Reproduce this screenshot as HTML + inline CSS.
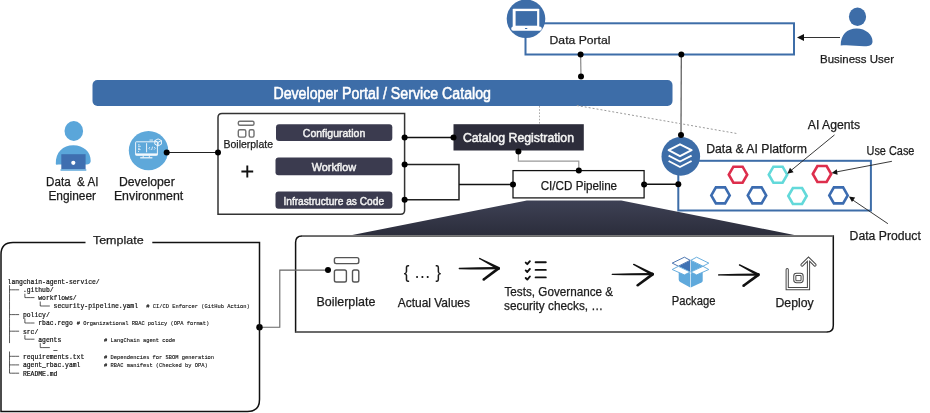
<!DOCTYPE html>
<html><head><meta charset="utf-8">
<style>
html,body{margin:0;padding:0;background:#fff;width:930px;height:413px;overflow:hidden}
svg{position:absolute;left:0;top:0;display:block;will-change:transform}
text{font-family:"Liberation Sans",sans-serif;fill:#1b1b1b;stroke:#1b1b1b;stroke-width:0.25px}
text[font-weight]{stroke:none}
.m{font-family:"Liberation Mono",monospace;stroke-width:0.2px;fill:#111;stroke:#111}
.c{stroke-width:0.12px}
</style></head><body>
<svg width="930" height="413" viewBox="0 0 930 413">
<defs>
<linearGradient id="trap" x1="0" y1="0" x2="0" y2="1">
<stop offset="0" stop-color="#3e4155"/><stop offset="1" stop-color="#2b2d3b"/>
</linearGradient>
</defs>

<!-- ===== Data Portal ===== -->
<rect x="525.5" y="23.3" width="268.5" height="31.2" fill="#fff" stroke="#3d6da8" stroke-width="2"/>
<circle cx="526" cy="18.8" r="19.3" fill="#3d6da8"/>
<text x="549.6" y="43.9" font-size="11.8" textLength="60.8" lengthAdjust="spacingAndGlyphs">Data Portal</text>

<!-- Business user -->
<line x1="840" y1="37.5" x2="803" y2="37.5" stroke="#333" stroke-width="1.1"/>
<path d="M797 37.5 L804 34 L804 41 Z" fill="#111"/>
<ellipse cx="857.5" cy="16.8" rx="8.6" ry="9.2" fill="#3d6da8"/>
<path d="M840.7 45.5 C840.5 35 847 28.5 856.5 28.5 C866 28.5 872.8 35 872.5 41.5 C872.5 45.5 869 46.3 864 46.2 C856 46 848 44.5 840.7 45.5 Z" fill="#3d6da8"/>
<text x="820" y="62.7" font-size="11.7" textLength="74" lengthAdjust="spacingAndGlyphs">Business User</text>

<!-- connectors portal -->
<line x1="580.6" y1="54.6" x2="581" y2="76.4" stroke="#888" stroke-width="1.2"/>
<circle cx="580.6" cy="54.6" r="3" fill="#000"/>
<circle cx="581" cy="76.4" r="3" fill="#000"/>
<line x1="681.3" y1="54.6" x2="681" y2="135" stroke="#555" stroke-width="1.2"/>
<circle cx="681.3" cy="54.6" r="3" fill="#000"/>

<!-- ===== Developer Portal bar ===== -->
<rect x="92.5" y="80" width="580" height="26" rx="5" fill="#3d6da8"/>
<text x="273.4" y="99.2" font-size="15.6" style="fill:#fff;stroke:#fff;stroke-width:0.55px" textLength="217.6" lengthAdjust="spacingAndGlyphs">Developer Portal / Service Catalog</text>

<!-- dashed lines -->
<line x1="539.5" y1="106" x2="539.5" y2="124" stroke="#aaa" stroke-width="1" stroke-dasharray="1.6 1.6"/>
<line x1="576.8" y1="105.5" x2="736.8" y2="133.5" stroke="#999" stroke-width="1" stroke-dasharray="2 2"/>


<!-- ===== Left people ===== -->
<!-- engineer -->
<ellipse cx="73.8" cy="131" rx="9.3" ry="9.9" fill="#5aa6da"/>
<path d="M55.8 164 C55.5 152 63 145.2 73.3 145.2 C83.6 145.2 91 152 90.7 161 C90.5 164 88 164.5 85 164.5 L60 164.5 C57 164.5 55.8 165 55.8 164 Z" fill="#5aa6da"/>
<rect x="61.3" y="154.2" width="24.3" height="15.3" fill="#3f6fb0"/>
<rect x="60.5" y="169.2" width="25.8" height="1.6" fill="#6aaede"/>
<circle cx="73.3" cy="162.8" r="2.1" fill="#fff"/>
<text x="46.1" y="186.1" font-size="12.0" xml:space="preserve" textLength="52.3" lengthAdjust="spacingAndGlyphs">Data  &amp; AI</text>
<text x="48.4" y="199.8" font-size="12.0" textLength="47.7" lengthAdjust="spacingAndGlyphs">Engineer</text>

<!-- developer environment -->
<circle cx="148.5" cy="150.6" r="19.7" fill="#5ea8da"/>
<g fill="none" stroke="#f2f8fd" stroke-width="0.95">
<rect x="135.6" y="141.8" width="21.8" height="13.6" rx="0.6"/>
<line x1="135.6" y1="154.2" x2="157.4" y2="154.2" stroke-width="1.6"/>
<line x1="146.6" y1="143.2" x2="146.6" y2="152.3"/>
<line x1="140.2" y1="157.8" x2="152.4" y2="157.8" stroke-width="1.2"/>
<line x1="143.2" y1="155.5" x2="143.2" y2="157.5"/>
<line x1="149.3" y1="155.5" x2="149.3" y2="157.5"/>
<path d="M138 144.8 h1.6 M138 146.3 h2.8 M138 148.3 h1.8 M138 149.6 h2.6 M138 151.5 h1" stroke-width="0.8"/>
<path d="M150 147 l-1.1 1.3 l1.1 1.3 M154.2 147 l1.1 1.3 l-1.1 1.3 M152.6 146.6 l-1 3.4" stroke-width="0.8"/>
<path d="M154.8 140.6 l3.3 -1.7 l3.3 1.7 v3.6 l-3.3 1.7 l-3.3 -1.7 z M154.8 140.6 l3.3 1.7 l3.3 -1.7 M158.1 142.3 v3.6" stroke-width="1"/>
<path d="M149.5 139.8 h3.5 M149.5 140.8 h3.5" stroke-width="0.5"/>
</g>
<line x1="166.7" y1="152.5" x2="218" y2="152.5" stroke="#222" stroke-width="1.2"/>
<circle cx="166.7" cy="152.5" r="3" fill="#000"/>
<text x="119" y="186.1" font-size="12.0" textLength="55.7" lengthAdjust="spacingAndGlyphs">Developer</text>
<text x="113.9" y="199.8" font-size="12.0" textLength="69.3" lengthAdjust="spacingAndGlyphs">Environment</text>

<!-- ===== Boilerplate box ===== -->
<path d="M218 214.2 V117.5 Q218 113.5 222 113.5 H404.6 V210.2 Q404.6 214.2 400.6 214.2 Z" fill="none" stroke="#333" stroke-width="1.5"/>
<circle cx="218" cy="152.6" r="3" fill="#000"/>
<g fill="none" stroke="#707070" stroke-width="1.4">
<rect x="238.3" y="121.3" width="15.7" height="4" rx="1.5"/>
<rect x="238.3" y="129.8" width="7.5" height="7.3" rx="1.5"/>
<rect x="249.2" y="129.8" width="4.8" height="7.3" rx="1.5"/>
</g>
<text x="223.5" y="147.6" font-size="11.2" textLength="49.5" lengthAdjust="spacingAndGlyphs">Boilerplate</text>
<path d="M241.4 171.5 H253.2 M247.3 165.6 V177.4" stroke="#111" stroke-width="1.9"/>

<rect x="276" y="124.3" width="116.3" height="16.8" rx="3" fill="#3b3b4f"/>
<text x="302.8" y="136.9" font-size="10.6" style="fill:#f2f2f2;stroke:#f2f2f2;stroke-width:0.45px" textLength="62.5" lengthAdjust="spacingAndGlyphs">Configuration</text>
<rect x="275.5" y="157.4" width="116.9" height="17.8" rx="3" fill="#3b3b4f"/>
<text x="311.7" y="170.9" font-size="10.9" style="fill:#f2f2f2;stroke:#f2f2f2;stroke-width:0.45px" textLength="44.5" lengthAdjust="spacingAndGlyphs">Workflow</text>
<rect x="275.5" y="191.4" width="116.9" height="17.3" rx="3" fill="#3b3b4f"/>
<text x="283.4" y="205.1" font-size="10.9" style="fill:#f2f2f2;stroke:#f2f2f2;stroke-width:0.45px" textLength="100.7" lengthAdjust="spacingAndGlyphs">Infrastructure as Code</text>

<!-- right connectors of boilerplate -->
<line x1="404.6" y1="137.6" x2="453.5" y2="137.6" stroke="#111" stroke-width="1.5"/>
<path d="M404.6 164.5 H459 V199.8 H404.6" fill="none" stroke="#222" stroke-width="1.5"/>
<line x1="459" y1="184.4" x2="513" y2="184.4" stroke="#111" stroke-width="1.5"/>
<circle cx="404.6" cy="137.6" r="3" fill="#000"/>
<circle cx="404.6" cy="164.5" r="3" fill="#000"/>
<circle cx="404.6" cy="199.8" r="3" fill="#000"/>

<!-- Catalog registration -->
<rect x="453.5" y="124.2" width="130.3" height="26.3" fill="#2d2d3b"/>
<text x="462.9" y="141.8" font-size="12.7" style="fill:#f4f4f4;stroke:#f4f4f4;stroke-width:0.5px" textLength="111.1" lengthAdjust="spacingAndGlyphs">Catalog Registration</text>
<circle cx="453.5" cy="137.6" r="3" fill="#000"/>
<path d="M518.4 151.6 V161.2 H578.8 V170.6" fill="none" stroke="#999" stroke-width="1.2"/>
<circle cx="518.4" cy="151.6" r="3" fill="#000"/>

<!-- CI/CD -->
<rect x="513" y="170.6" width="131.1" height="27.3" fill="#fff" stroke="#111" stroke-width="1.25"/>
<circle cx="578.8" cy="170.6" r="3" fill="#000"/>
<circle cx="513" cy="184.4" r="3" fill="#000"/>
<circle cx="644.1" cy="184.4" r="3" fill="#000"/>
<text x="540.7" y="189.9" font-size="11.9" textLength="76.4" lengthAdjust="spacingAndGlyphs">CI/CD Pipeline</text>
<line x1="644.1" y1="184.3" x2="678.3" y2="184.3" stroke="#111" stroke-width="1.5"/>

<!-- ===== Data & AI platform ===== -->
<rect x="678.3" y="160.8" width="192.6" height="49.7" fill="none" stroke="#3d6da8" stroke-width="2"/>
<circle cx="680.8" cy="156.4" r="19.3" fill="#3d6da8"/>
<g fill="none" stroke="#fff" stroke-width="1.9" stroke-linejoin="round">
<path d="M668.6 150.2 L680 144.3 L691.6 150.2 L680 156.2 Z"/>
<path d="M668.6 155.6 L680 161.5 L691.6 155.6"/>
<path d="M668.6 161 L680 167 L691.6 161"/>
</g>
<circle cx="681" cy="135.1" r="3" fill="#000"/>
<circle cx="678.3" cy="184.3" r="3" fill="#000"/>
<text x="706.2" y="152.7" font-size="12.1" textLength="100.7" lengthAdjust="spacingAndGlyphs">Data &amp; AI Platform</text>

<g fill="none" stroke-width="2.6">
<path id="hx" d="M-9.2 0 L-4.6 -8 L4.6 -8 L9.2 0 L4.6 8 L-4.6 8 Z" transform="translate(738 174.7)" stroke="#dd2e4c"/>
<path d="M-9.2 0 L-4.6 -8 L4.6 -8 L9.2 0 L4.6 8 L-4.6 8 Z" transform="translate(778 174.7)" stroke="#63d9da"/>
<path d="M-9.2 0 L-4.6 -8 L4.6 -8 L9.2 0 L4.6 8 L-4.6 8 Z" transform="translate(822 174)" stroke="#dd2e4c"/>
<path d="M-9.2 0 L-4.6 -8 L4.6 -8 L9.2 0 L4.6 8 L-4.6 8 Z" transform="translate(720.5 195.4)" stroke="#3c6cb0"/>
<path d="M-9.2 0 L-4.6 -8 L4.6 -8 L9.2 0 L4.6 8 L-4.6 8 Z" transform="translate(757 195.4)" stroke="#3c6cb0"/>
<path d="M-9.2 0 L-4.6 -8 L4.6 -8 L9.2 0 L4.6 8 L-4.6 8 Z" transform="translate(797.5 196)" stroke="#63d9da"/>
<path d="M-9.2 0 L-4.6 -8 L4.6 -8 L9.2 0 L4.6 8 L-4.6 8 Z" transform="translate(838.5 195.4)" stroke="#3c6cb0"/>
</g>

<!-- annotations -->
<text x="807.8" y="129.3" font-size="12.0" textLength="52.3" lengthAdjust="spacingAndGlyphs">AI Agents</text>
<text x="866.5" y="155.1" font-size="12.0" textLength="47.9" lengthAdjust="spacingAndGlyphs">Use Case</text>
<text x="849.6" y="240" font-size="12.0" textLength="71.2" lengthAdjust="spacingAndGlyphs">Data Product</text>
<g stroke="#222" stroke-width="0.9" fill="none">
<line x1="834.5" y1="134.9" x2="791" y2="170.5"/>
<line x1="891.9" y1="161.3" x2="836" y2="172"/>
<line x1="887.9" y1="223.7" x2="852" y2="199.5"/>
</g>
<g fill="#111">
<path d="M787.3 173.7 L790 167.8 L793.6 172.2 Z"/>
<path d="M831.6 172.9 L836.8 169.2 L837.6 174.7 Z"/>
<path d="M848.9 196.5 L855.2 197.4 L852 202 Z"/>
</g>


<!-- laptop icon in data portal circle -->
<rect x="512.7" y="8.7" width="26.6" height="18.6" rx="0.8" fill="#fff"/>
<rect x="515.6" y="11.1" width="21.5" height="14.6" fill="#3d6da8"/>
<rect x="511.2" y="26.6" width="30.6" height="4.2" rx="2.1" fill="#fff"/>
<rect x="524.9" y="28" width="2.5" height="1" rx="0.5" fill="#3d6da8"/>

<!-- ===== trapezoid ===== -->
<path d="M351 235.3 L526.8 200.4 L621.3 200.4 L795.5 235.3 Z" fill="url(#trap)"/>

<!-- ===== lower pipeline box ===== -->
<path d="M295.6 332 V242.3 Q295.6 235.9 302 235.9 H833.3 V325.5 Q833.3 332 826.8 332 Z" fill="none" stroke="#111" stroke-width="1.5"/>
<path d="M302 235.9 H833.3 M295.6 332 H826.8" fill="none" stroke="#777" stroke-width="1.6"/>

<g fill="none" stroke="#555" stroke-width="1.4">
<rect x="334.4" y="257.6" width="24.4" height="6" rx="1.8"/>
<rect x="334.4" y="270" width="12" height="12" rx="1.8"/>
<rect x="352.5" y="270" width="6.3" height="12" rx="1.8"/>
</g>
<path d="M259.5 327.3 H279.8 V270.1 H328" fill="none" stroke="#666" stroke-width="1.1"/>
<circle cx="328" cy="270.1" r="3" fill="#000"/>
<circle cx="259.5" cy="327.3" r="3.2" fill="#000"/>
<text x="316.5" y="305.9" font-size="12.2" textLength="58.9" lengthAdjust="spacingAndGlyphs">Boilerplate</text>
<text x="403.8" y="277.8" font-size="18.5" style="stroke-width:0.1px" textLength="37.3" lengthAdjust="spacingAndGlyphs">{ … }</text>
<text x="397.7" y="306.8" font-size="12.2" textLength="72.3" lengthAdjust="spacingAndGlyphs">Actual Values</text>
<g fill="#111">
<path d="M459.30 267.85 Q477.90 267.10 496.50 267.10 L496.50 269.30 Q477.90 269.60 459.30 269.15 Z"/><circle cx="459.30" cy="268.50" r="0.65"/>
<path d="M479.37 259.12 L497.82 269.68 L499.18 267.12 L480.03 257.88 Z"/><circle cx="479.70" cy="258.50" r="0.70"/><circle cx="498.50" cy="268.40" r="1.45"/>
<path d="M497.64 267.24 L482.95 278.40 L484.45 280.40 L499.36 269.56 Z"/><circle cx="498.50" cy="268.40" r="1.45"/><circle cx="483.70" cy="279.40" r="1.25"/>
<path d="M612.30 273.75 Q631.40 273.00 650.50 273.00 L650.50 275.20 Q631.40 275.50 612.30 275.05 Z"/><circle cx="612.30" cy="274.40" r="0.65"/>
<path d="M633.37 265.02 L651.82 275.58 L653.18 273.02 L634.03 263.78 Z"/><circle cx="633.70" cy="264.40" r="0.70"/><circle cx="652.50" cy="274.30" r="1.45"/>
<path d="M651.64 273.14 L636.95 284.30 L638.45 286.30 L653.36 275.46 Z"/><circle cx="652.50" cy="274.30" r="1.45"/><circle cx="637.70" cy="285.30" r="1.25"/>
<path d="M718.70 274.25 Q737.50 273.50 756.30 273.50 L756.30 275.70 Q737.50 276.00 718.70 275.55 Z"/><circle cx="718.70" cy="274.90" r="0.65"/>
<path d="M739.17 265.52 L757.62 276.08 L758.98 273.52 L739.83 264.28 Z"/><circle cx="739.50" cy="264.90" r="0.70"/><circle cx="758.30" cy="274.80" r="1.45"/>
<path d="M757.44 273.64 L742.75 284.80 L744.25 286.80 L759.16 275.96 Z"/><circle cx="758.30" cy="274.80" r="1.45"/><circle cx="743.50" cy="285.80" r="1.25"/>
</g>
<g fill="none" stroke="#111" stroke-width="1.9" stroke-linecap="round" stroke-linejoin="round">
<path d="M525.7 262.6 L527.3 264.2 L529.9 261.2"/>
<path d="M525.7 270.4 L527.3 272 L529.9 268.9"/>
<path d="M525.7 278 L527.3 279.6 L529.9 276.5"/>
<path d="M535.6 262.3 H545.8 M535.6 269.9 H545.8 M535.6 277.4 H545.8"/>
</g>
<text x="504.5" y="295.8" font-size="12.2" textLength="108.6" lengthAdjust="spacingAndGlyphs">Tests, Governance &amp;</text>
<text x="504.1" y="309.8" font-size="12.2" textLength="99.1" lengthAdjust="spacingAndGlyphs">security checks, …</text>

<!-- package icon -->
<g stroke-linejoin="round">
<path d="M678.7 268 L690.2 273.6 L690.2 287.6 L680.2 282 Q678.7 281.2 678.7 279.5 Z" fill="#5fa9dc"/>
<path d="M690.8 273.6 L702.7 268 L702.7 280.8 Q702.7 282 701.5 282.6 L690.8 287.6 Z" fill="#5fa9dc"/>
<path d="M678.7 266.2 L690.2 260.5 L690.2 271.9 Z" fill="#3f72b3"/>
<path d="M690.8 260.5 L702.7 266.2 L690.8 271.9 Z" fill="#5fa9dc"/>
<g fill="#fff" stroke-width="0.9">
<path d="M672.2 263.1 L684.4 257.2 L690.2 260.3 L678.4 266.2 Z" stroke="#3a68a8"/>
<path d="M690.8 260.3 L696.6 257.2 L708.8 263.1 L703 266.2 Z" stroke="#5aa6da"/>
<path d="M672.2 269.5 L678.4 266.3 L690.2 272 L684.4 274.9 Z" stroke="#5aa6da"/>
<path d="M690.8 272 L703 266.3 L708.8 269.5 L696.6 274.9 Z" stroke="#5aa6da"/>
</g>
</g>
<text x="671.7" y="304.9" font-size="12.2" textLength="43.7" lengthAdjust="spacingAndGlyphs">Package</text>

<!-- deploy icon -->
<g fill="none">
<path d="M787.2 269.5 V288.7 H808.5 V259 M802 265 L808.5 258.6 L815 265" stroke="#474747" stroke-width="3.2" stroke-linejoin="miter" stroke-linecap="round"/>
<path d="M787.2 269.5 V288.7 H808.5 V259 M802 265 L808.5 258.6 L815 265" stroke="#fff" stroke-width="1.2" stroke-linejoin="miter" stroke-linecap="round"/>
<rect x="794.8" y="274.4" width="7.3" height="7.3" rx="1.6" stroke="#474747" stroke-width="3.1"/>
<rect x="794.8" y="274.4" width="7.3" height="7.3" rx="1.6" stroke="#fff" stroke-width="1.1"/>
</g>
<text x="775.5" y="307" font-size="12.2" textLength="38.2" lengthAdjust="spacingAndGlyphs">Deploy</text>

<!-- ===== Template box ===== -->
<path d="M85.5 242.5 H13 Q1 242.5 1 254.5 V411.5 H247.5 Q259.5 411.5 259.5 399.5 V242.5 H152.3" fill="none" stroke="#111" stroke-width="1.5"/>
<text x="92.9" y="244.2" font-size="11.8" textLength="50.8" lengthAdjust="spacingAndGlyphs">Template</text>

<g class="code">
<text class="m" x="7.6" y="283.7" font-size="6.4" xml:space="preserve">langchain-agent-service/</text>
<text class="m" x="7.6" y="292.2" font-size="6.4" xml:space="preserve">    .github/</text>
<text class="m" x="7.6" y="300.0" font-size="6.4" xml:space="preserve">        workflows/</text>
<text class="m" x="7.6" y="308.4" font-size="6.4" xml:space="preserve">            security-pipeline.yaml</text>
<text class="m c" x="146.3" y="308.4" font-size="5.4" xml:space="preserve"># CI/CD Enforcer (GitHub Action)</text>
<text class="m" x="7.6" y="317.0" font-size="6.4" xml:space="preserve">    policy/</text>
<text class="m" x="7.6" y="325.4" font-size="6.4" xml:space="preserve">        rbac.rego</text>
<text class="m c" x="76.7" y="325.4" font-size="5.4" xml:space="preserve"># Organizational RBAC policy (OPA format)</text>
<text class="m" x="7.6" y="333.6" font-size="6.4" xml:space="preserve">    src/</text>
<text class="m" x="7.6" y="341.6" font-size="6.4" xml:space="preserve">        agents</text>
<text class="m c" x="104.1" y="341.6" font-size="5.4" xml:space="preserve"># LangChain agent code</text>
<text class="m" x="7.6" y="350.0" font-size="6.4" xml:space="preserve">            _</text>
<text class="m" x="7.6" y="358.7" font-size="6.4" xml:space="preserve">    requirements.txt</text>
<text class="m c" x="104.1" y="358.7" font-size="5.4" xml:space="preserve"># Dependencies for SBOM generation</text>
<text class="m" x="7.6" y="367.3" font-size="6.4" xml:space="preserve">    agent_rbac.yaml</text>
<text class="m c" x="104.1" y="367.3" font-size="5.4" xml:space="preserve"># RBAC manifest (Checked by OPA)</text>
<text class="m" x="7.6" y="375.6" font-size="6.4" xml:space="preserve">    README.md</text>
<path d="M9.52 285.20V293.70M9.52 289.80H11.44M11.44 289.80H15.28M15.28 289.80H19.12M9.52 293.70V301.50M24.88 293.70V297.60H26.80M26.80 297.60H30.64M30.64 297.60H34.48M9.52 301.50V309.90M40.24 301.50V306.00H42.16M42.16 306.00H46.00M46.00 306.00H49.84M9.52 309.90V318.50M9.52 314.60H11.44M11.44 314.60H15.28M15.28 314.60H19.12M9.52 318.50V326.90M24.88 318.50V323.00H26.80M26.80 323.00H30.64M30.64 323.00H34.48M9.52 326.90V335.10M9.52 331.20H11.44M11.44 331.20H15.28M15.28 331.20H19.12M9.52 335.10V343.10M24.88 335.10V339.20H26.80M26.80 339.20H30.64M30.64 339.20H34.48M40.24 343.10V347.60H42.16M42.16 347.60H46.00M46.00 347.60H49.84M9.52 351.50V360.20M9.52 356.30H11.44M11.44 356.30H15.28M15.28 356.30H19.12M9.52 360.20V368.80M9.52 364.90H11.44M11.44 364.90H15.28M15.28 364.90H19.12M9.52 368.80V373.20H11.44M11.44 373.20H15.28M15.28 373.20H19.12" fill="none" stroke="#222" stroke-width="0.75"/>
</g>
</svg>
</body></html>
